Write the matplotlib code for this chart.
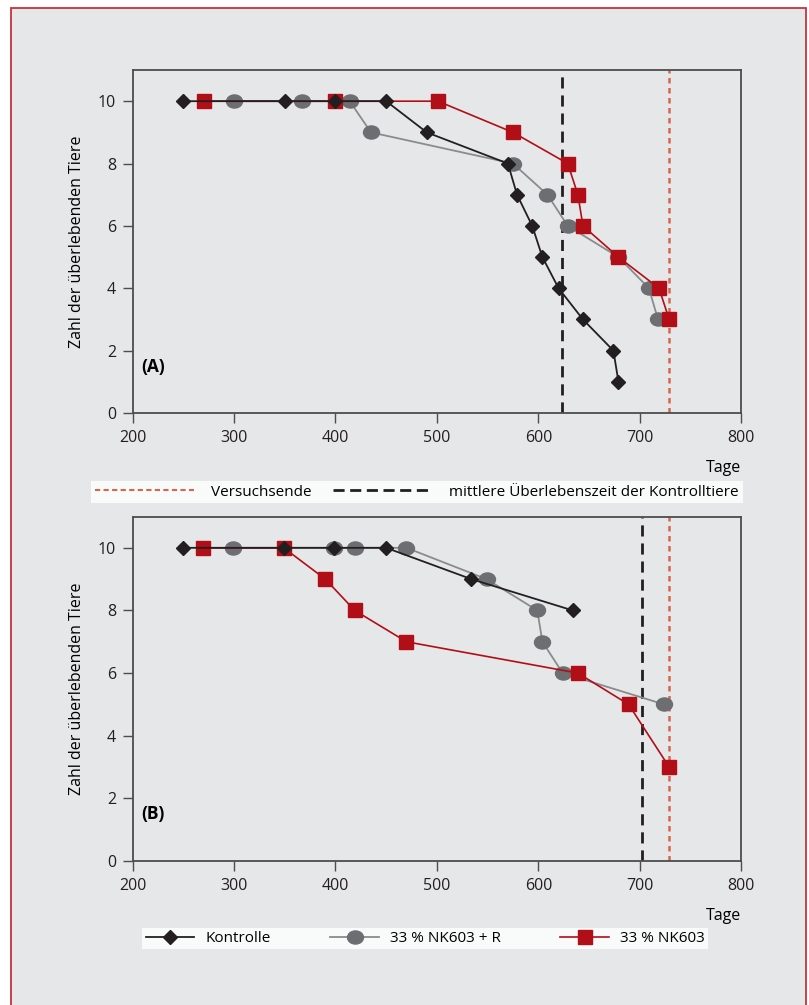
import matplotlib
matplotlib.use("Agg")
import matplotlib.pyplot as plt
from matplotlib.lines import Line2D
from matplotlib.patches import Rectangle
from matplotlib.path import Path
from matplotlib.transforms import Affine2D

plt.rcParams['font.family'] = ['Open Sans', 'DejaVu Sans']

# ---- data (days, surviving animals) ----
# panel A
a_ctrl_x = [250, 350, 400, 450, 490, 570, 579, 594, 604, 620, 644, 674, 679]
a_ctrl_y = [10, 10, 10, 10, 9, 8, 7, 6, 5, 4, 3, 2, 1]
a_nkr_x = [300, 367, 414, 435, 575, 609, 629, 679, 709, 718]
a_nkr_y = [10, 10, 10, 9, 8, 7, 6, 5, 4, 3]
a_nk_x = [270, 400, 501, 575, 629, 639, 644, 679, 719, 729]
a_nk_y = [10, 10, 10, 9, 8, 7, 6, 5, 4, 3]
a_mean_ctrl = 623
# panel B
b_ctrl_x = [250, 349, 399, 450, 534, 634]
b_ctrl_y = [10, 10, 10, 10, 9, 8]
b_nkr_x = [299, 399, 419, 470, 549, 599, 604, 624, 724]
b_nkr_y = [10, 10, 10, 10, 9, 8, 7, 6, 5]
b_nk_x = [269, 349, 390, 419, 470, 639, 689, 729]
b_nk_y = [10, 10, 9, 8, 7, 6, 5, 3]
b_mean_ctrl = 702
end_day = 729

xticks = [200, 300, 400, 500, 600, 700, 800]
yticks = [0, 2, 4, 6, 8, 10]
labels = ["Kontrolle", "33 % NK603 + R", "33 % NK603"]

BG = "#e6e7e8"
BLACK = "#231f20"
GREY = "#6d6e71"
GREY_LINE = "#8a8b8d"
RED = "#b20e17"
RED_DASH = "#d8654f"
SPINE = "#4d4d4f"

# slightly wide ellipse marker for the grey series
ellipse = Affine2D().scale(1.22, 1.0).transform_path(Path.unit_circle())

fig = plt.figure(figsize=(8.09, 10.05), dpi=100, facecolor="white")
fig.patches.append(Rectangle((11 / 809, -0.02), 794.5 / 809, 1.012,
                             transform=fig.transFigure, facecolor=BG,
                             edgecolor="#c8323c", lw=1.3, zorder=-1))


def panel(ax, ctrl, nkr, nk, mean_ctrl, tag):
    ax.set_facecolor(BG)
    ax.plot(nkr[0], nkr[1], color=GREY_LINE, lw=1.3, marker=ellipse, ms=11.5,
            mfc=GREY, mec=GREY, zorder=3)
    ax.plot(nk[0], nk[1], color=RED, lw=1.2, marker="s", ms=10,
            mfc=RED, mec=RED, zorder=4)
    ax.plot(ctrl[0], ctrl[1], color=BLACK, lw=1.3, marker="D", ms=7.5,
            mfc=BLACK, mec=BLACK, zorder=5)
    ax.axvline(mean_ctrl, color=BLACK, lw=2, dashes=(4, 2.5), zorder=2)
    ax.axvline(end_day, color=RED_DASH, lw=1.8, dashes=(2.2, 1.8), zorder=2)
    ax.set_xlim(200, 800)
    ax.set_ylim(0, 11)
    ax.set_xticks(xticks)
    ax.set_yticks(yticks)
    ax.tick_params(labelsize=11.5, length=7, width=1, color=SPINE,
                   labelcolor="#231f20", pad=5)
    for s in ax.spines.values():
        s.set_color(SPINE)
        s.set_linewidth(1.3)
    ax.set_ylabel("Zahl der überlebenden Tiere", fontsize=11.5, labelpad=9)
    ax.text(1.0, -0.16, "Tage", transform=ax.transAxes, ha="right",
            va="center", fontsize=11.5)
    ax.text(0.015, 0.135, tag, transform=ax.transAxes, ha="left",
            va="center", fontsize=12.5, fontweight="bold")


ax_a = fig.add_axes([132.6 / 809, 1 - 413 / 1005, 608.6 / 809, 343 / 1005])
panel(ax_a, (a_ctrl_x, a_ctrl_y), (a_nkr_x, a_nkr_y), (a_nk_x, a_nk_y),
      a_mean_ctrl, "(A)")
ax_b = fig.add_axes([132.6 / 809, 1 - 861 / 1005, 608.6 / 809, 344.5 / 1005])
panel(ax_b, (b_ctrl_x, b_ctrl_y), (b_nkr_x, b_nkr_y), (b_nk_x, b_nk_y),
      b_mean_ctrl, "(B)")

# reference-line legend between the panels
vl_handles = [Line2D([], [], color=RED_DASH, lw=1.5, dashes=(2.5, 1.6)),
              Line2D([], [], color=BLACK, lw=2, dashes=(4, 2))]
leg1 = fig.legend(vl_handles, ["Versuchsende",
                               "mittlere Überlebenszeit der Kontrolltiere"],
                  loc="center", bbox_to_anchor=(417 / 809, 1 - 492 / 1005),
                  ncol=2, fontsize=11, frameon=True, fancybox=False,
                  handlelength=6.5, handletextpad=1.1, columnspacing=1.4,
                  borderpad=0.25, borderaxespad=0)
leg1.get_frame().set_facecolor("white")
leg1.get_frame().set_edgecolor("none")

# series legend below
s_handles = [Line2D([], [], color=BLACK, lw=1.3, marker="D", ms=7.5,
                    mfc=BLACK, mec=BLACK),
             Line2D([], [], color=GREY_LINE, lw=1.3, marker=ellipse, ms=11.5,
                    mfc=GREY, mec=GREY),
             Line2D([], [], color=RED, lw=1.2, marker="s", ms=10,
                    mfc=RED, mec=RED)]
leg2 = fig.legend(s_handles, labels, loc="center",
                  bbox_to_anchor=(425 / 809, 1 - 938.5 / 1005), ncol=3,
                  fontsize=11, frameon=True, fancybox=False,
                  handlelength=3.2, handletextpad=0.7, columnspacing=3.9,
                  borderpad=0.2, borderaxespad=0)
leg2.get_frame().set_facecolor("white")
leg2.get_frame().set_edgecolor("none")

fig.savefig("out.png", dpi=100, facecolor="white")
